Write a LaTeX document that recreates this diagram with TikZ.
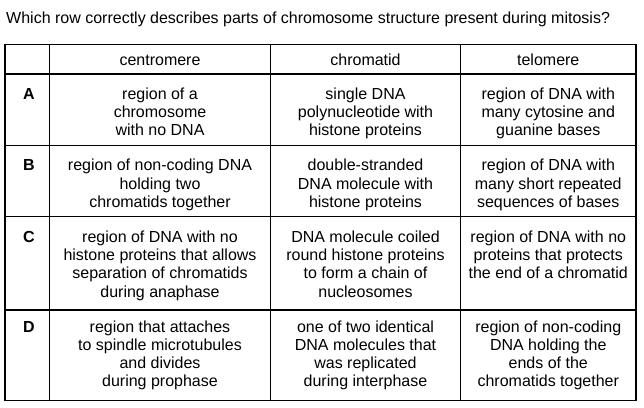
\documentclass[tikz,border=0pt]{standalone}
\usepackage{fontspec}
\setmainfont{Liberation Sans}
\begin{document}
\begin{tikzpicture}[x=1pt,y=-1pt,
  grid/.style={line width=1.3pt,black},
  cell/.style={font=\fontsize{16}{18.2}\selectfont, align=center, anchor=north, inner sep=0pt},
  lab/.style={font=\fontsize{16}{18.2}\selectfont\bfseries, anchor=north, inner sep=0pt},
  title/.style={font=\fontsize{16}{18.2}\selectfont, anchor=base west, inner sep=0pt}]
\useasboundingbox (0,0) rectangle (644,407);
% title
\node[title] (q) at (6,23) {Which row correctly describes parts of chromosome structure present during mitosis?};
% table lines
\draw[grid] (5,44.5) rectangle (636,400.5);
\foreach \yy in {74,145.5,216.5,310} \draw[grid] (5,\yy) -- (636,\yy);
\foreach \xx in {49.5,270.5,460.5} \draw[grid] (\xx,44.5) -- (\xx,400.5);
% header (baseline 65)
\node[cell] (h1) at (160,52.26) {\strut centromere};
\node[cell] (h2) at (365.5,52.26) {\strut chromatid};
\node[cell] (h3) at (548.25,52.26) {\strut telomere};
% row A baseline 99
\node[lab]  (la) at (29,86.26) {\strut A};
\node[cell] (a1) at (160,86.26) {\strut region of a\\chromosome\\with no DNA};
\node[cell] (a2) at (365.5,86.26) {\strut single DNA\\polynucleotide with\\histone proteins};
\node[cell] (a3) at (548.25,86.26) {\strut region of DNA with\\many cytosine and\\guanine bases};
% row B baseline 170.7
\node[lab]  (lb) at (29,157.96) {\strut B};
\node[cell] (b1) at (160,157.96) {\strut region of non-coding DNA\\holding two\\chromatids together};
\node[cell] (b2) at (365.5,157.96) {\strut double-stranded\\DNA molecule with\\histone proteins};
\node[cell] (b3) at (548.25,157.96) {\strut region of DNA with\\many short repeated\\sequences of bases};
% row C baseline 242.3
\node[lab]  (lc) at (29,229.56) {\strut C};
\node[cell] (c1) at (160,229.56) {\strut region of DNA with no\\histone proteins that allows\\separation of chromatids\\during anaphase};
\node[cell] (c2) at (365.5,229.56) {\strut DNA molecule coiled\\round histone proteins\\to form a chain of\\nucleosomes};
\node[cell] (c3) at (548.25,229.56) {\strut region of DNA with no\\proteins that protects\\the end of a chromatid};
% row D baseline 332
\node[lab]  (ld) at (29,319.26) {\strut D};
\node[cell] (d1) at (160,319.26) {\strut region that attaches\\to spindle microtubules\\and divides\\during prophase};
\node[cell] (d2) at (365.5,319.26) {\strut one of two identical\\DNA molecules that\\was replicated\\during interphase};
\node[cell] (d3) at (548.25,319.26) {\strut region of non-coding\\DNA holding the\\ends of the\\chromatids together};
\end{tikzpicture}
\end{document}
